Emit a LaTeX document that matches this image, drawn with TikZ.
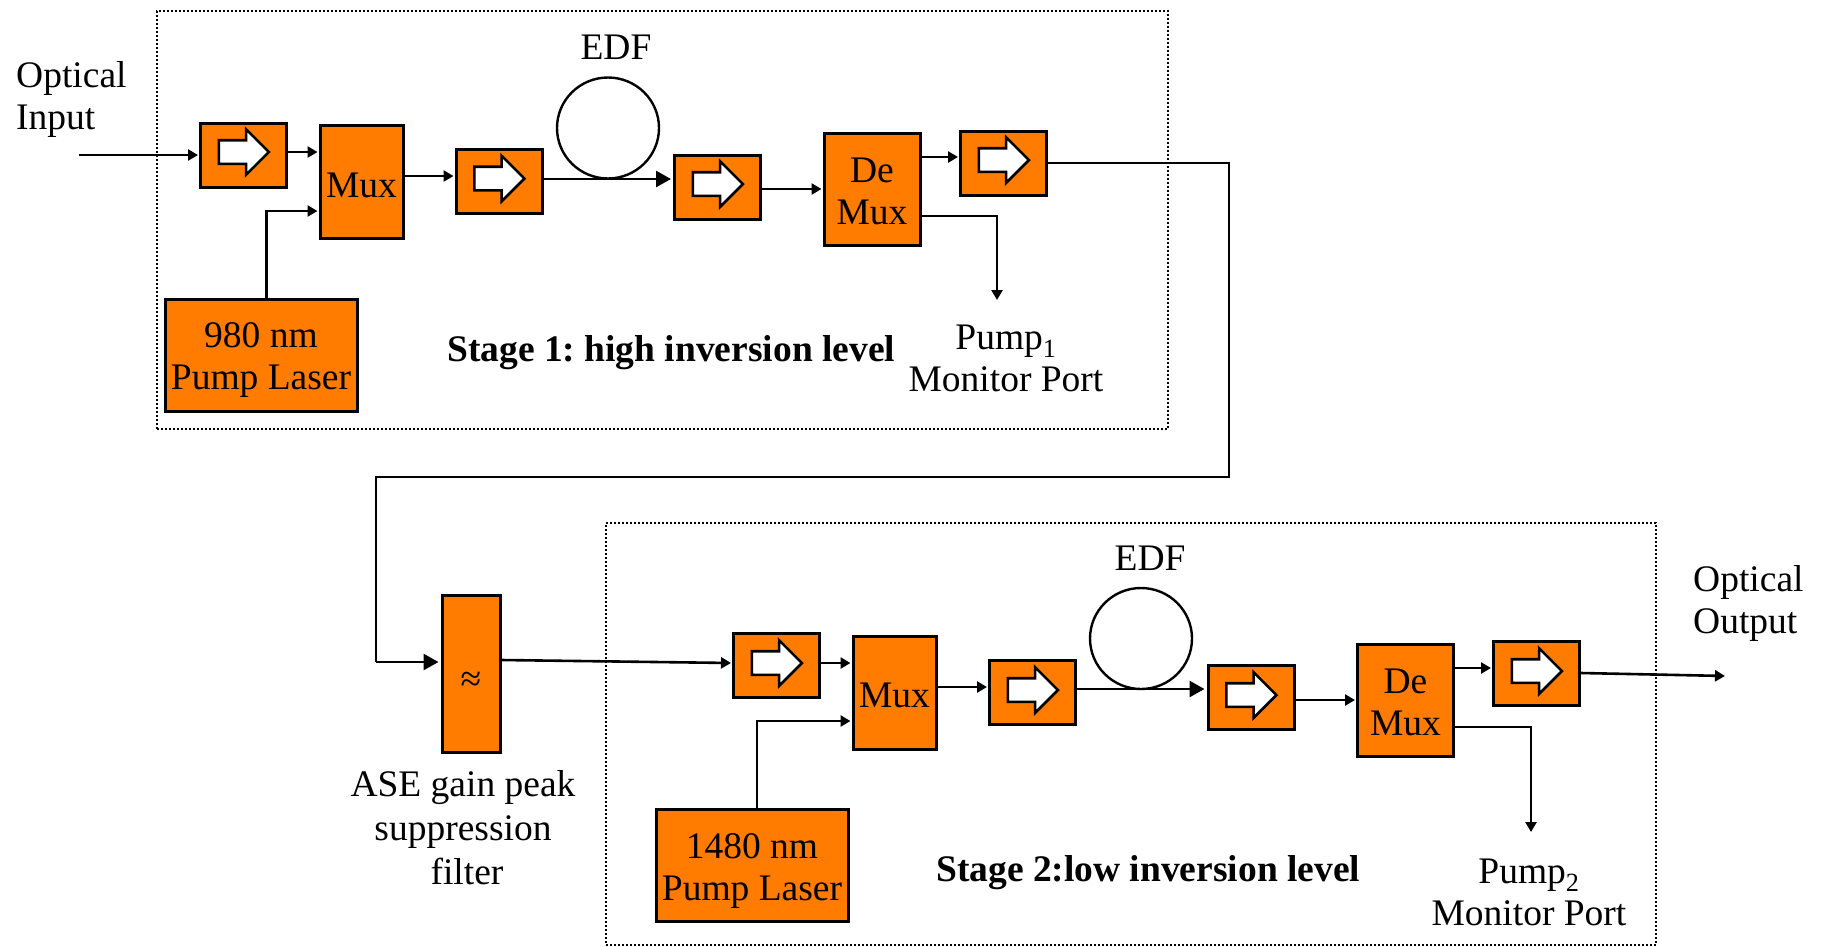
\documentclass[tikz,border=0pt]{standalone}
\usepackage{fontspec}
\setmainfont{Liberation Serif}
\usetikzlibrary{arrows.meta,shapes.arrows,shapes.geometric}

\begin{document}
\frenchspacing
\begin{tikzpicture}[x=1pt,y=-1pt]
    \useasboundingbox (0,0) rectangle (1822,946);
    \definecolor{pumporange}{HTML}{FF7C00}
    \tikzset{
        stageframe/.style = {draw, line width=2.4pt, dash pattern=on 2pt off 2pt, inner sep=0pt},
        orangebox/.style = {draw, line width=3pt, fill=pumporange, inner sep=0pt, align=center, font=\fontsize{37.5}{42}\selectfont},
        isobox/.style = {orangebox, minimum width=86pt, minimum height=64pt},
        isoarrow/.style = {draw, line width=2.6pt, fill=white, inner sep=0pt, shape=single arrow,
            single arrow head extend=11pt, single arrow tip angle=90, single arrow head indent=0pt,
            minimum height=50pt, text height=21pt, text depth=0pt, text width=0pt},
        muxbox/.style = {orangebox, minimum width=83pt, minimum height=113pt, text height=30pt, text depth=0pt},
        demuxbox/.style = {orangebox, minimum width=96pt, minimum height=112pt, text height=69pt, text depth=0pt},
        laserbox/.style = {orangebox, minimum width=192pt, minimum height=112pt, text height=69pt, text depth=0pt},
        edfloop/.style = {draw, line width=2.4pt, ellipse, inner sep=0pt, minimum width=102pt, minimum height=101pt},
        lbl/.style = {inner sep=0pt, align=center, font=\fontsize{37.5}{42}\selectfont},
        boldlbl/.style = {lbl, font=\fontsize{37.5}{42}\selectfont\bfseries},
        sig/.style = {line width=2.6pt, -{Triangle[length=10pt,width=11pt]}, shorten >=1pt},
        bigsig/.style = {line width=2.6pt, -{Triangle[length=15pt,width=16pt]}, shorten >=2pt}
    }

    \node[stageframe, minimum width=1011pt, minimum height=418pt] (frameA) at (662.5,220) {};
    \node[stageframe, minimum width=1050pt, minimum height=422pt] (frameB) at (1131,734) {};

    \node[isobox] (isoA) at (243.5,155) {};
    \node[isoarrow] (arrowA) at (238,152) {};
    \node[muxbox] (muxA) at (361.5,182) {Mux};
    \node[isobox] (isoB) at (499,181.5) {};
    \node[isoarrow] (arrowB) at (493.5,178.5) {};
    \node[edfloop] (loopA) at (608,128) {};
    \node[isobox] (isoC) at (717.5,187) {};
    \node[isoarrow] (arrowC) at (712,184) {};
    \node[demuxbox] (demuxA) at (872,189.5) {De\\Mux};
    \node[isobox] (isoD) at (1003.5,163) {};
    \node[isoarrow] (arrowD) at (998,160) {};
    \node[laserbox] (laserA) at (261,355) {980 nm\\Pump Laser};

    \node[orangebox, minimum width=58pt, minimum height=157pt] (filter) at (471,674) {};

    \node[isobox] (isoE) at (776.5,665.5) {};
    \node[isoarrow] (arrowE) at (771,663) {};
    \node[muxbox] (muxB) at (894.5,692.5) {Mux};
    \node[isobox] (isoF) at (1032.5,692.5) {};
    \node[isoarrow] (arrowF) at (1027,690) {};
    \node[edfloop] (loopB) at (1141,638.5) {};
    \node[isobox] (isoG) at (1251,697.5) {};
    \node[isoarrow] (arrowG) at (1245.5,695) {};
    \node[demuxbox] (demuxB) at (1405.5,700.5) {De\\Mux};
    \node[isobox] (isoH) at (1536.5,673.5) {};
    \node[isoarrow] (arrowH) at (1531,671) {};
    \node[laserbox] (laserB) at (752,865.5) {1480 nm\\Pump Laser};

    \node[lbl] (approx) at (471,682) {≈};
    \node[lbl, anchor=west, align=left] (inputlbl) at (16,99) {Optical\\Input};
    \node[lbl, anchor=base] (edflblA) at (616,59) {EDF};
    \node[boldlbl, anchor=base west] (stagelblA) at (447,361) {Stage 1: high inversion level};
    \node[lbl] (monlblA) at (1006,358) {Pump\textsubscript{1}\\Monitor Port};
    \node[lbl, font=\fontsize{37.5}{44}\selectfont] (aselbl) at (463,827.5) {ASE gain peak\\suppression\\\hspace{8pt}filter};
    \node[lbl, anchor=base] (edflblB) at (1150,570) {EDF};
    \node[boldlbl, anchor=base west] (stagelblB) at (936,881) {Stage 2:low inversion level};
    \node[lbl] (monlblB) at (1529,892) {Pump\textsubscript{2}\\Monitor Port};
    \node[lbl, anchor=west, align=left] (outputlbl) at (1693,603) {Optical\\Output};

    \coordinate (inA) at (79,155);
    \coordinate (bendA) at (1229,477);
    \coordinate (bendB) at (376,662);
    \coordinate (monA) at (997,301);
    \coordinate (monB) at (1531,833);
    \coordinate (outB) at (1726,676);

    \draw[sig] (inA) -- (isoA.west);
    \draw[sig] (isoA.east |- 0,152) -- (muxA.west |- 0,152);
    \draw[sig] (266.5,0 |- laserA.north) |- (muxA.west |- 0,211);
    \draw[sig] (muxA.east |- 0,176) -- (isoB.west |- 0,176);
    \draw[bigsig] (isoB.east |- 0,179) -- (isoC.west |- 0,179);
    \draw[sig] (isoC.east |- 0,189) -- (demuxA.west |- 0,189);
    \draw[sig] (demuxA.east |- 0,157) -- (isoD.west |- 0,157);
    \draw[sig] (demuxA.east |- 0,216) -| (monA);
    \draw[line width=2.6pt] (isoD.east) -| (bendA) -| (bendB);
    \draw[bigsig] (bendB) -- (filter.west |- bendB);

    \draw[sig] (filter.east |- 0,660) -- (isoE.west |- 0,663);
    \draw[sig] (isoE.east |- 0,663) -- (muxB.west |- 0,663);
    \draw[sig] (757,0 |- laserB.north) |- (muxB.west |- 0,721);
    \draw[sig] (muxB.east |- 0,687) -- (isoF.west |- 0,687);
    \draw[bigsig] (isoF.east |- 0,689) -- (isoG.west |- 0,689);
    \draw[sig] (isoG.east |- 0,700) -- (demuxB.west |- 0,700);
    \draw[sig] (demuxB.east |- 0,668) -- (isoH.west |- 0,668);
    \draw[sig] (demuxB.east |- 0,727) -| (monB);
    \draw[sig] (isoH.east |- 0,673) -- (outB);
\end{tikzpicture}
\end{document}
